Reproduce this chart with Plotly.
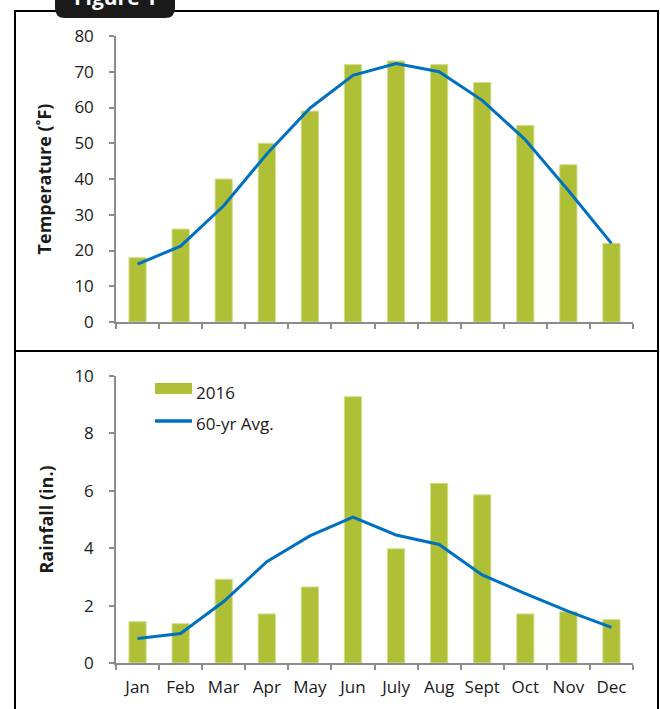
import plotly.graph_objects as go

months = ["Jan", "Feb", "Mar", "Apr", "May", "Jun", "July", "Aug", "Sept", "Oct", "Nov", "Dec"]
temp_2016 = [18, 26, 40, 50, 59, 72, 73, 72, 67, 55, 44, 22]
temp_avg = [16.2, 21.2, 32.5, 47.0, 59.8, 69.0, 72.3, 70.0, 62.0, 51.0, 36.8, 22.0]
rain_2016 = [1.44, 1.37, 2.92, 1.71, 2.65, 9.28, 3.98, 6.26, 5.86, 1.71, 1.79, 1.51]
rain_avg = [0.85, 1.03, 2.14, 3.53, 4.43, 5.08, 4.46, 4.13, 3.07, 2.42, 1.80, 1.24]
legend_names = ["2016", "60-yr Avg."]

BAR = "#AFC036"
BAR_EDGE = "#D3DE8F"
LINE = "#0070C0"
AXIS = "#8C8C8C"
FONT = "Open Sans"

W, H = 660, 709


def px_x(x):
    return x / W


def px_y(y):
    return 1 - y / H


fig = go.Figure()

fig.add_trace(go.Bar(x=months, y=temp_2016, width=0.4, marker=dict(color=BAR, line=dict(color=BAR_EDGE, width=1)),
                     xaxis="x", yaxis="y", name=legend_names[0]))
fig.add_trace(go.Scatter(x=months, y=temp_avg, mode="lines", line=dict(color=LINE, width=3),
                         xaxis="x", yaxis="y", name=legend_names[1]))
fig.add_trace(go.Bar(x=months, y=rain_2016, width=0.4, marker=dict(color=BAR, line=dict(color=BAR_EDGE, width=1)),
                     xaxis="x2", yaxis="y2", name=legend_names[0]))
fig.add_trace(go.Scatter(x=months, y=rain_avg, mode="lines", line=dict(color=LINE, width=3),
                         xaxis="x2", yaxis="y2", name=legend_names[1]))

xdom = [px_x(116), px_x(633)]
axis_common = dict(showline=True, linecolor=AXIS, linewidth=1.5, ticks="outside", ticklen=5,
                   tickcolor=AXIS, tickwidth=1.5, showgrid=False, zeroline=False, automargin=False,
                   tickfont=dict(family=FONT, size=17, color="#1a1a1a"))

fig.update_layout(
    width=W, height=H,
    margin=dict(l=0, r=0, t=0, b=0, autoexpand=False),
    paper_bgcolor="white", plot_bgcolor="white",
    font=dict(family=FONT, color="#1a1a1a"),
    showlegend=False,
    xaxis=dict(domain=xdom, anchor="y", type="category", tickson="boundaries",
               showticklabels=False, range=[-0.5, 11.5], **axis_common),
    yaxis=dict(domain=[px_y(322), px_y(36)], anchor="x", range=[0, 80], tickvals=list(range(0, 81, 10)),
               ticklabelstandoff=12,
               title=dict(text="<b>Temperature (˚F)</b>", font=dict(family=FONT, size=18), standoff=18),
               **axis_common),
    xaxis2=dict(domain=xdom, anchor="y2", type="category", tickson="boundaries", tickangle=0,
                range=[-0.5, 11.5], ticklabelstandoff=8, **axis_common),
    yaxis2=dict(domain=[px_y(663), px_y(376)], anchor="x2", range=[0, 10], tickvals=[0, 2, 4, 6, 8, 10],
                ticklabelstandoff=12,
                title=dict(text="<b>Rainfall (in.)</b>", font=dict(family=FONT, size=18), standoff=16),
                **axis_common),
)

# legend drawn inside the rainfall panel
fig.add_shape(type="rect", xref="paper", yref="paper", x0=px_x(155), x1=px_x(192), y0=px_y(394), y1=px_y(383),
              fillcolor=BAR, line=dict(width=0))
fig.add_shape(type="line", xref="paper", yref="paper", x0=px_x(155), x1=px_x(192), y0=px_y(421), y1=px_y(421),
              line=dict(color=LINE, width=3.5))
fig.add_annotation(text=legend_names[0], xref="paper", yref="paper", x=px_x(194), y=px_y(392),
                   xanchor="left", yanchor="middle", showarrow=False, font=dict(family=FONT, size=17))
fig.add_annotation(text=legend_names[1], xref="paper", yref="paper", x=px_x(194), y=px_y(423),
                   xanchor="left", yanchor="middle", showarrow=False, font=dict(family=FONT, size=17))

# panel borders
fig.add_shape(type="rect", xref="paper", yref="paper", x0=px_x(15), x1=px_x(658), y0=px_y(351), y1=px_y(11),
              line=dict(color="black", width=2), fillcolor="rgba(0,0,0,0)", layer="below")
fig.add_shape(type="rect", xref="paper", yref="paper", x0=px_x(15), x1=px_x(658), y0=px_y(715), y1=px_y(351),
              line=dict(color="black", width=2), fillcolor="rgba(0,0,0,0)", layer="below")

# "Figure 1" tab with rounded bottom corners
x0, x1, yb, r = 55, 175, 18, 10
path = (f"M {px_x(x0)},{px_y(-10)} L {px_x(x0)},{px_y(yb - r)} "
        f"Q {px_x(x0)},{px_y(yb)} {px_x(x0 + r)},{px_y(yb)} "
        f"L {px_x(x1 - r)},{px_y(yb)} Q {px_x(x1)},{px_y(yb)} {px_x(x1)},{px_y(yb - r)} "
        f"L {px_x(x1)},{px_y(-10)} Z")
fig.add_shape(type="path", xref="paper", yref="paper", path=path, fillcolor="#1a1a1a",
              line=dict(color="#1a1a1a", width=0))
fig.add_annotation(text="<b>Figure 1</b>", xref="paper", yref="paper", x=px_x(115), y=px_y(-3),
                   xanchor="center", yanchor="middle", showarrow=False,
                   font=dict(family=FONT, size=21, color="white"))

fig.write_html("out.html", config={"displayModeBar": False},
               post_script="document.body.style.margin='0px';")
